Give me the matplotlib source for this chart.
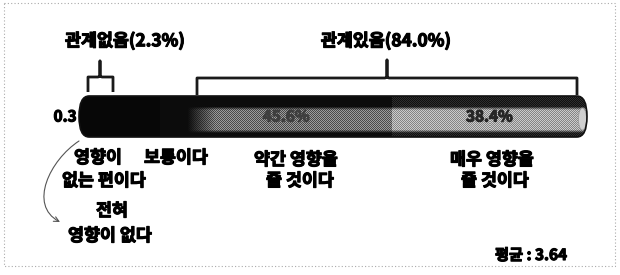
import numpy as np
import matplotlib
matplotlib.use("Agg")
import matplotlib.pyplot as plt
import matplotlib.patheffects as pe
from matplotlib.patches import FancyBboxPatch, Rectangle, Ellipse, FancyArrowPatch
from matplotlib.path import Path

plt.rcParams['font.family'] = ['Noto Sans CJK KR', 'DejaVu Sans']

# ---- data ----
categories = ['전혀 영향이 없다', '영향이 없는 편이다', '보통이다', '약간 영향을 줄 것이다', '매우 영향을 줄 것이다']
values = [0.3, 2.0, 13.7, 45.6, 38.4]
value_labels = ['0.3', '', '', '45.6%', '38.4%']
group_labels = ['관계없음(2.3%)', '관계있음(84.0%)']
mean_label = '평균 : 3.64'

W, H = 620, 275
fig = plt.figure(figsize=(W / 100, H / 100), dpi=100)

BOLD = [pe.withStroke(linewidth=0.85, foreground='black')]

# main axis: x in percent, y in pixel rows
bar_left_px, bar_right_px = 79, 587
scale = (bar_right_px - bar_left_px) / 100.0
ax = fig.add_axes([0, 0, 1, 1])
xlim = (-bar_left_px / scale, (W - bar_left_px) / scale)
ylim = (H, 0)
ax.set_xlim(*xlim)
ax.set_ylim(*ylim)
ax.axis('off')
ax.patch.set_alpha(0)

yc, bh = 116.5, 41
y0, y1 = yc - bh / 2, yc + bh / 2
total = sum(values)
lefts = np.concatenate([[0], np.cumsum(values)[:-1]])

bars = ax.barh(yc, values, left=lefts, height=bh, color='#080808', edgecolor='none')

outline = FancyBboxPatch((0, y0), total, bh,
                         boxstyle="round,pad=0,rounding_size=2.0",
                         mutation_aspect=bh / 4.0,
                         facecolor='none', edgecolor='#111111', lw=1.2, zorder=5)
ax.add_patch(outline)
for b in bars:
    b.set_clip_path(outline)


def seg_img(kind, wpx, hpx):
    t = (np.arange(hpx) + 0.5) / hpx
    s = (np.arange(wpx) + 0.5) / wpx
    chk = ((np.arange(hpx)[:, None] + np.arange(wpx)[None, :]) % 2) * 2 - 1
    band = np.clip((t - 0.26) / 0.08, 0, 1) * np.clip((0.90 - t) / 0.08, 0, 1)
    band = band[:, None] * np.ones((1, wpx))
    if kind == 'dark':
        return np.full((hpx, wpx), 0.03)
    if kind == 'mid':
        ramp = np.clip((s - 0.12) / 0.12, 0, 1)[None, :]
        b = band * ramp
        return np.clip(0.05 + 0.40 * b + 0.16 * chk * b, 0, 1)
    # light
    return np.clip(0.12 + 0.06 * chk + band * (0.54 + 0.08 * chk), 0, 1)


kinds = ['dark', 'dark', 'dark', 'mid', 'light']
for b, k in zip(bars, kinds):
    x0 = b.get_x()
    wv = b.get_width()
    wpx = max(int(round(wv * scale)), 1)
    img = seg_img(k, wpx, int(bh))
    im = ax.imshow(img, cmap='gray', vmin=0, vmax=1, interpolation='nearest',
                   extent=[x0, x0 + wv, y1, y0], origin='upper', aspect='auto', zorder=3)
    im.set_clip_path(outline)

cap = Ellipse((total - 0.9, 119), 1.6, 22, facecolor='#cfcfcf', edgecolor='#9a9a9a',
              lw=0.6, zorder=4)
ax.add_patch(cap)
cap.set_clip_path(outline)
ax.set_xlim(*xlim)
ax.set_ylim(*ylim)

# value labels
ax.text(-0.5, yc, value_labels[0], ha='right', va='center', fontsize=11,
        fontweight='bold', color='black', zorder=6, path_effects=BOLD)
for i in (3, 4):
    cx = lefts[i] + values[i] / 2
    col = '#3e3e3e' if i == 3 else '#262626'
    ax.text(cx + (2 if i == 3 else 0), yc, value_labels[i], ha='center', va='center',
            fontsize=11, fontweight='bold', color=col, zorder=6,
            path_effects=[pe.withStroke(linewidth=0.8, foreground=col)])

# overlay axis in pixel coordinates for annotations
ov = fig.add_axes([0, 0, 1, 1])
ov.set_xlim(0, W)
ov.set_ylim(H, 0)
ov.axis('off')
ov.patch.set_alpha(0)

# dotted frame
ov.add_patch(Rectangle((4, 3), 611, 263, facecolor='none', edgecolor='#aaaaaa',
                       lw=0.8, ls=(0, (1, 2))))

fs = 12.5


def label(x, y, s, size=fs):
    ov.text(x, y, s, ha='center', va='center', fontsize=size, fontweight='bold',
            color='black', path_effects=BOLD)


# group labels
label(125, 41, group_labels[0])
label(386, 41, group_labels[1])


def bracket(xl, xr, xp, yh, ypk, yb):
    r = 3
    verts = [(xl, yb), (xl, yh + r), (xl, yh), (xl + r, yh), (xp - 2, yh), (xp, yh - 1),
             (xp, ypk), (xp, yh - 1), (xp + 2, yh), (xr - r, yh), (xr, yh), (xr, yh + r), (xr, yb)]
    ov.plot([v[0] for v in verts], [v[1] for v in verts], color='#1a1a1a', lw=2.0,
            solid_joinstyle='round', solid_capstyle='butt')


bracket(88, 113, 100, 77, 61, 92)
bracket(197, 577, 387, 78, 60, 95)

# category labels
label(98, 158, '영향이')
label(104, 181, '없는 편이다')
label(176, 158, categories[2])
label(296, 160, '약간 영향을')
label(300, 181, '줄 것이다')
label(492, 160, '매우 영향을')
label(495, 181, '줄 것이다')
label(112, 211, '전혀')
label(110, 236, '영향이 없다')

# curved arrow
verts = [(79, 141), (50, 160), (28, 205), (60, 222)]
codes = [Path.MOVETO, Path.CURVE4, Path.CURVE4, Path.CURVE4]
arr = FancyArrowPatch(path=Path(verts, codes), arrowstyle='->', mutation_scale=9,
                      color='#555555', lw=0.8)
ov.add_patch(arr)

# mean
label(531, 255, mean_label, size=11)

fig.savefig('out.png', dpi=100)
